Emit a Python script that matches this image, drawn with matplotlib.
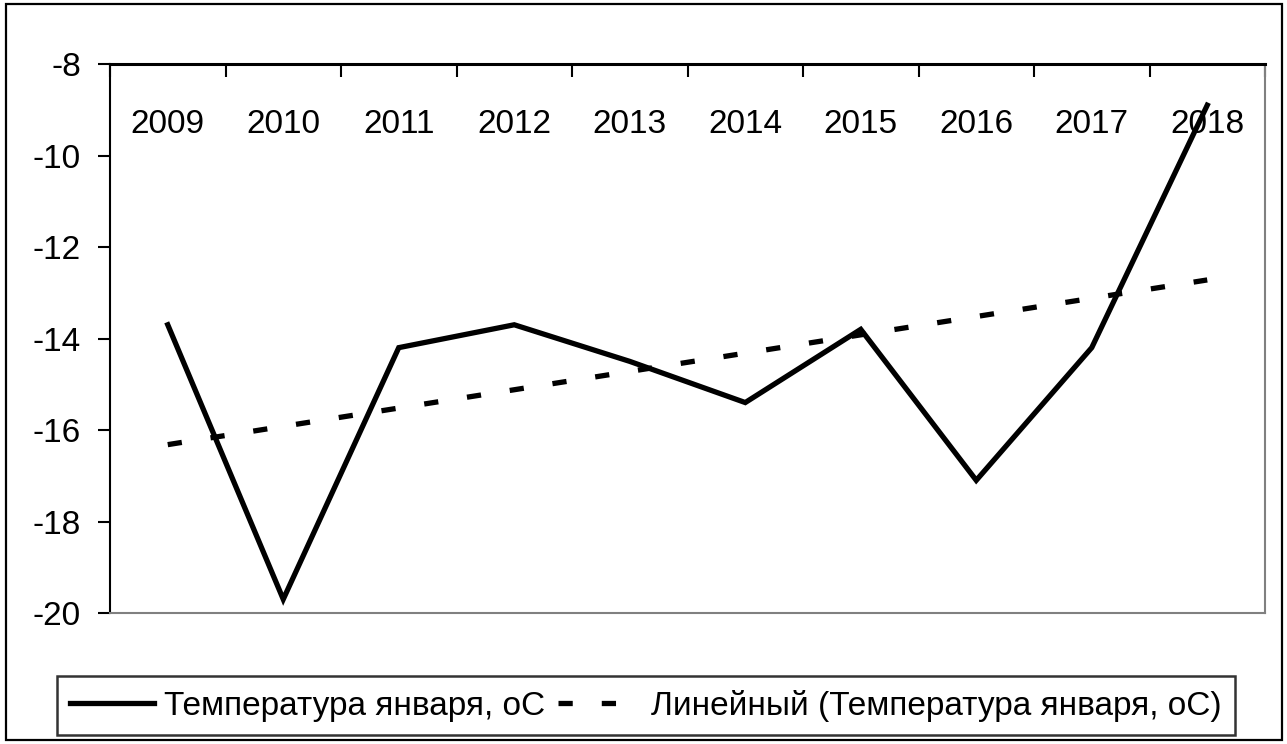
import numpy as np
import matplotlib
matplotlib.use("Agg")
import matplotlib.pyplot as plt
from matplotlib.patches import Rectangle

years = ["2009", "2010", "2011", "2012", "2013", "2014", "2015", "2016", "2017", "2018"]
temps = [-13.7, -19.7, -14.2, -13.7, -14.5, -15.4, -13.8, -17.1, -14.2, -8.9]
y_ticks = [-20, -18, -16, -14, -12, -10, -8]
series_name = "Температура января, оС"
trend_name = "Линейный (Температура января, оС)"

plt.rcParams['font.family'] = ['Liberation Sans', 'DejaVu Sans']
fs = 24

fig = plt.figure(figsize=(12.87, 7.44), dpi=100)
ax = fig.add_axes([110/1287, 1 - 613/744, (1265 - 110)/1287, (613 - 64)/744])

x = np.arange(len(years))
ax.plot(x, temps, color='black', lw=3.8, solid_joinstyle='miter', label=series_name)

# linear trend, as Excel draws it
k, b = np.polyfit(x, temps, 1)
ax.plot(x, k*x + b, color='black', lw=3.8, dashes=(2.7, 5.5),
        dash_capstyle='butt', label=trend_name)

ax.set_xlim(-0.5, len(years) - 0.5)
ax.set_ylim(-20, -8)

# y axis
ax.set_yticks(y_ticks)
ax.set_yticklabels([str(v) for v in y_ticks])
ax.tick_params(axis='y', direction='out', length=9, width=1.5, pad=12, labelsize=fs)

# category axis sits on top (at -8), ticks between categories point down
ax.xaxis.tick_top()
ax.set_xticks(np.arange(len(years) + 1) - 0.5)
ax.set_xticklabels([])
ax.set_xticks(x, minor=True)
ax.set_xticklabels(years, minor=True)
ax.tick_params(axis='x', which='major', direction='in', length=9, width=1.5)
ax.tick_params(axis='x', which='minor', length=0, pad=-55, labelsize=fs)

for side in ['top', 'left']:
    ax.spines[side].set_color('black')
ax.spines['top'].set_linewidth(2.2)
ax.spines['left'].set_linewidth(1.5)
for side in ['bottom', 'right']:
    ax.spines[side].set_color('#808080')
    ax.spines[side].set_linewidth(1.5)

leg = fig.legend(loc='lower left', bbox_to_anchor=(57/1287, 9/744), borderaxespad=0,
                 ncol=2, fontsize=fs, frameon=True, fancybox=False, edgecolor='black',
                 handlelength=2.5, handletextpad=0.3, columnspacing=0.4, borderpad=0.4)
leg.get_frame().set_linewidth(1.8)

# outer chart frame
fig.patches.append(Rectangle((6/1287, 4/744), 1276/1287, 736/744, transform=fig.transFigure,
                             fill=False, edgecolor='black', lw=1.6))

fig.savefig("out.png", dpi=100)
